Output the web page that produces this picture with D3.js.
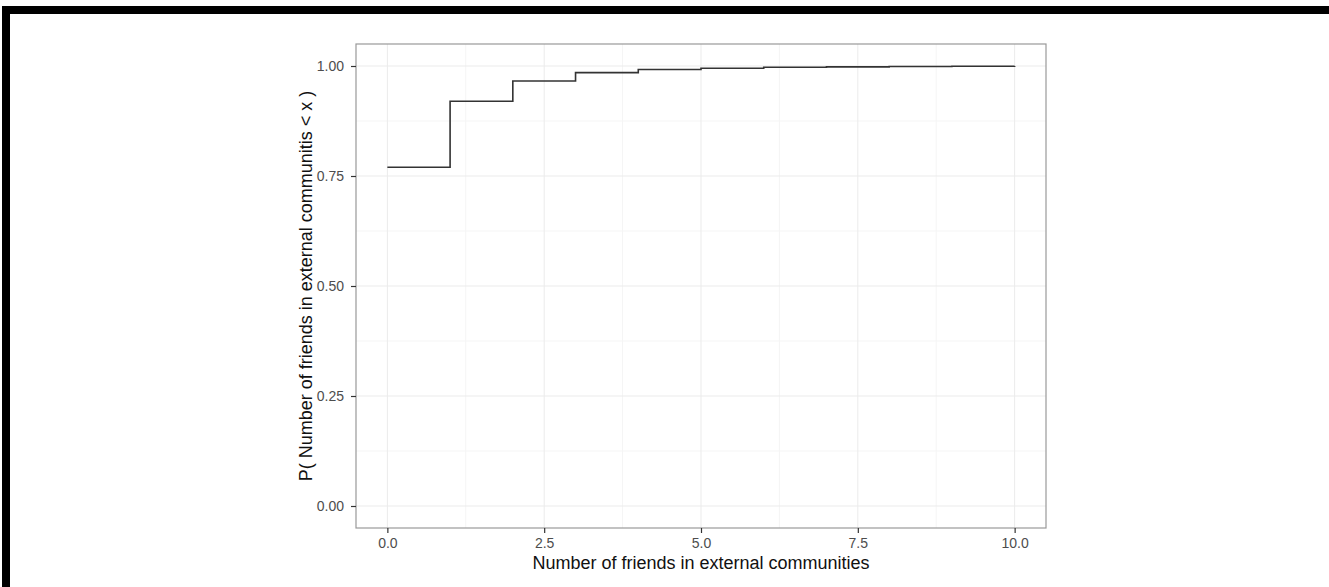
<!DOCTYPE html>
<html>
<head>
<meta charset="utf-8">
<script src="https://cdn.jsdelivr.net/npm/d3@7"></script>
<style>
  body { margin: 0; background: #fff; }
  svg text { font-family: "Liberation Sans", Arial, sans-serif; }
</style>
</head>
<body>
<script>
var svg_Width = 1329;
var svg_Height = 587;

// ecdf values
var friends = [0, 1, 2, 3, 4, 5, 6, 7, 8, 9, 10];
var prob = [0.770, 0.920, 0.966, 0.985, 0.992, 0.995, 0.997, 0.998, 0.999, 0.9995, 1.0];

var xTicks = [0, 2.5, 5, 7.5, 10];
var xTickLabels = ["0.0", "2.5", "5.0", "7.5", "10.0"];
var yTicks = [0, 0.25, 0.5, 0.75, 1];
var yTickLabels = ["0.00", "0.25", "0.50", "0.75", "1.00"];

var panel = { left: 356, top: 44, right: 1046, bottom: 528 };

var svg = d3.select("body")
  .append("svg")
  .attr("width", svg_Width)
  .attr("height", svg_Height);

// black frame bars at top and left
svg.append("rect").attr("x", 2).attr("y", 6).attr("width", svg_Width - 2).attr("height", 8).attr("fill", "#000");
svg.append("rect").attr("x", 2).attr("y", 6).attr("width", 8).attr("height", svg_Height - 6).attr("fill", "#000");

// scales with ggplot style 5% expansion
var x = d3.scaleLinear().domain([-0.5, 10.5]).range([panel.left, panel.right]);
var y = d3.scaleLinear().domain([-0.05, 1.05]).range([panel.bottom, panel.top]);

var g = svg.append("g");

// minor grid
var xMinor = [1.25, 3.75, 6.25, 8.75];
var yMinor = [0.125, 0.375, 0.625, 0.875];
g.selectAll(".xminor").data(xMinor).enter().append("line")
  .attr("x1", d => x(d)).attr("x2", d => x(d))
  .attr("y1", panel.top).attr("y2", panel.bottom)
  .attr("stroke", "#f5f5f5").attr("stroke-width", 1);
g.selectAll(".yminor").data(yMinor).enter().append("line")
  .attr("x1", panel.left).attr("x2", panel.right)
  .attr("y1", d => y(d)).attr("y2", d => y(d))
  .attr("stroke", "#f5f5f5").attr("stroke-width", 1);

// major grid
g.selectAll(".xmajor").data(xTicks).enter().append("line")
  .attr("x1", d => x(d)).attr("x2", d => x(d))
  .attr("y1", panel.top).attr("y2", panel.bottom)
  .attr("stroke", "#ebebeb").attr("stroke-width", 1);
g.selectAll(".ymajor").data(yTicks).enter().append("line")
  .attr("x1", panel.left).attr("x2", panel.right)
  .attr("y1", d => y(d)).attr("y2", d => y(d))
  .attr("stroke", "#ebebeb").attr("stroke-width", 1);

// step line
var stepLine = d3.line()
  .x(d => x(d[0]))
  .y(d => y(d[1]))
  .curve(d3.curveStepAfter);

g.append("path")
  .datum(friends.map((f, i) => [f, prob[i]]))
  .attr("d", stepLine)
  .attr("fill", "none")
  .attr("stroke", "#333")
  .attr("stroke-width", 1.6);

// panel border
g.append("rect")
  .attr("x", panel.left).attr("y", panel.top)
  .attr("width", panel.right - panel.left)
  .attr("height", panel.bottom - panel.top)
  .attr("fill", "none")
  .attr("stroke", "#999")
  .attr("stroke-width", 1.2);

// axes
var bottomAxis = d3.axisBottom(x).tickValues(xTicks)
  .tickFormat((d, i) => xTickLabels[i]).tickSize(5).tickPadding(5);
var leftAxis = d3.axisLeft(y).tickValues(yTicks)
  .tickFormat((d, i) => yTickLabels[i]).tickSize(5).tickPadding(7);

var xAxis = svg.append("g")
  .attr("transform", `translate(0, ${panel.bottom})`)
  .call(bottomAxis);
var yAxis = svg.append("g")
  .attr("transform", `translate(${panel.left}, 0)`)
  .call(leftAxis);

[xAxis, yAxis].forEach(function (a) {
  a.select(".domain").remove();
  a.selectAll(".tick line").attr("stroke", "#333").attr("stroke-width", 1.2);
  a.selectAll(".tick text").attr("fill", "#4d4d4d").style("font-size", "14px");
});

// axis titles
svg.append("text")
  .attr("x", (panel.left + panel.right) / 2)
  .attr("y", 569)
  .attr("text-anchor", "middle")
  .style("font-size", "18px")
  .attr("fill", "#111")
  .text("Number of friends in external communities");

svg.append("text")
  .attr("transform", `translate(312, ${(panel.top + panel.bottom) / 2}) rotate(-90)`)
  .attr("text-anchor", "middle")
  .style("font-size", "18px")
  .attr("fill", "#111")
  .text("P( Number of friends in external communitis < x )");
</script>
</body>
</html>
